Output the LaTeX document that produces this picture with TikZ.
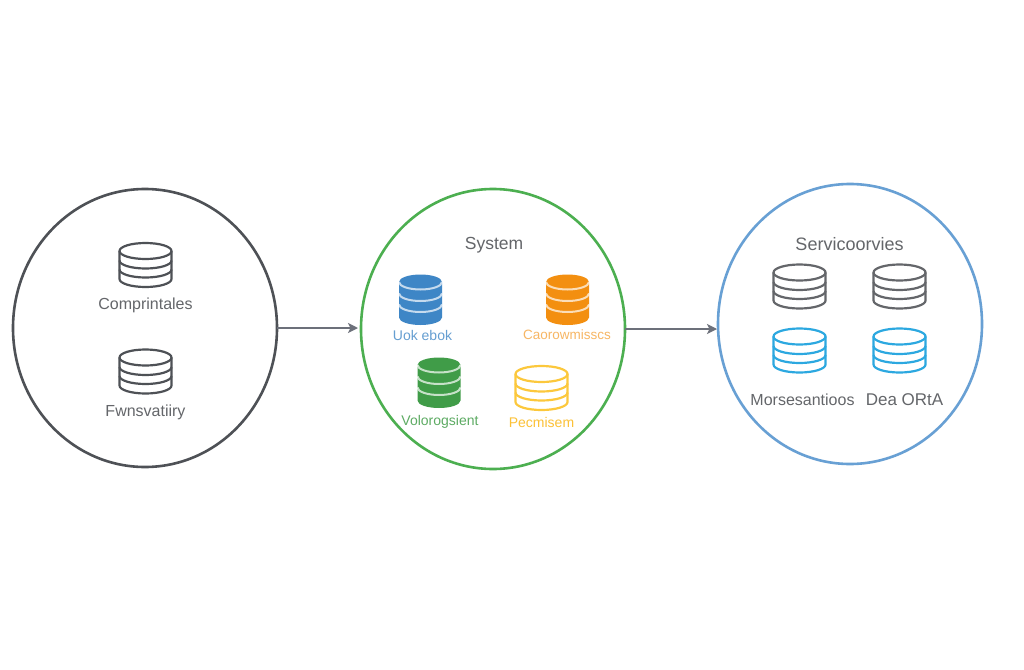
\documentclass[tikz,border=0pt]{standalone}
\usepackage{xcolor}
\usepackage{fontspec}
\setmainfont{Liberation Sans}
\usetikzlibrary{arrows.meta}
\usetikzlibrary{shapes.geometric}
\definecolor{ringdark}{RGB}{78, 81, 86}
\definecolor{ringgreen}{RGB}{76, 175, 80}
\definecolor{ringblue}{RGB}{104, 160, 212}
\definecolor{linkgray}{RGB}{108, 112, 122}
\definecolor{labelgray}{RGB}{100, 102, 106}
\definecolor{dbblue}{RGB}{62, 134, 198}
\definecolor{dborange}{RGB}{243, 143, 16}
\definecolor{dbgreen}{RGB}{64, 156, 72}
\definecolor{dbyellow}{RGB}{252, 200, 60}
\definecolor{dbgray}{RGB}{100, 102, 106}
\definecolor{dbcyan}{RGB}{44, 168, 224}
\tikzset{
  ring/.style={ellipse,draw,line width=2.6pt,minimum width=264pt,minimum height=278pt,inner sep=0pt,outer sep=0pt},
  link/.style={-{Stealth[length=10pt,width=10pt,inset=2.5pt]},draw=linkgray,fill=linkgray,line width=1.8pt},
  lab/.style={font=\fontsize{16}{18}\selectfont,inner sep=0pt},
  smalllab/.style={font=\fontsize{14}{16}\selectfont,inner sep=0pt},
  titlelab/.style={font=\fontsize{17.5}{20}\selectfont,inner sep=0pt},
  dbopen/.pic={
    \draw[line width=2.2pt,pic actions] (-26,-14) arc[start angle=180,end angle=360,x radius=26,y radius=8]
      -- (26,14) arc[start angle=0,end angle=180,x radius=26,y radius=8] -- cycle;
    \foreach \h in {-14,-4.5,4.5}
      \draw[line width=2.2pt,pic actions] (-26,\h) arc[start angle=180,end angle=0,x radius=26,y radius=8];
  },
  dbfull/.pic={
    \fill[pic actions] (-21.5,-18) arc[start angle=180,end angle=360,x radius=21.5,y radius=7.5]
      -- (21.5,17.5) arc[start angle=0,end angle=180,x radius=21.5,y radius=7.5] -- cycle;
    \foreach \h in {-18,-6.5,4.5}
      \draw[white,draw opacity=.7,line width=2pt] (-21.5,\h) arc[start angle=180,end angle=0,x radius=21.5,y radius=7.5];
  }
}
\begin{document}
\begin{tikzpicture}[x=1pt,y=-1pt]
  \useasboundingbox[fill=white] (0,0) rectangle (1024,669);
  % the three rings
  \node[ring,draw=ringdark] (left) at (145,328) {};
  \node[ring,draw=ringgreen,minimum height=280pt] (mid) at (493,329) {};
  \node[ring,draw=ringblue,minimum height=280pt] (right) at (850,324) {};
  \draw[link,shorten >=3pt] (left.east) -- (left.east -| mid.west);
  \draw[link,shorten >=1pt] (mid.east) -- (mid.east -| right.west);
  % left ring
  \pic[draw=ringdark] at (145.5,265) {dbopen};
  \pic[draw=ringdark] at (145.5,371.5) {dbopen};
  \node[lab,text=labelgray] (compin) at (145.5,305) {Comprintales};
  \node[lab,text=labelgray] (fwns) at (145.5,412) {Fwnsvatiiry};
  % middle ring
  \node[titlelab,text=labelgray] (system) at (494,245) {System};
  \pic[fill=dbblue] at (420.5,300) {dbfull};
  \pic[fill=dborange] at (567.5,300) {dbfull};
  \pic[fill=dbgreen] at (439,383) {dbfull};
  \pic[draw=dbyellow] at (541.5,388) {dbopen};
  \node[smalllab,text=dbblue!80] (uok) at (422.5,335) {Uok ebok};
  \node[smalllab,text=dborange!65,font=\fontsize{13.5}{16}\selectfont] (caor) at (567,335) {Caorowmisscs};
  \node[smalllab,text=dbgreen!85] (volo) at (440,422) {Volorogsient};
  \node[smalllab,text=dbyellow!90!orange] (pecm) at (541.5,422) {Pecmisem};
  % right ring
  \node[titlelab,text=labelgray,font=\fontsize{18}{20}\selectfont] (serv) at (849.5,244) {Servicoorvies};
  \pic[draw=dbgray] at (799.5,286.5) {dbopen};
  \pic[draw=dbgray] at (899.5,286.5) {dbopen};
  \pic[draw=dbcyan] at (799.5,350.5) {dbopen};
  \pic[draw=dbcyan] at (899.5,350.5) {dbopen};
  \node[lab,text=labelgray] (mors) at (802.5,400) {Morsesantioos};
  \node[lab,text=labelgray,font=\fontsize{17}{20}\selectfont] (dea) at (904.5,400) {Dea ORtA};
\end{tikzpicture}
\end{document}
